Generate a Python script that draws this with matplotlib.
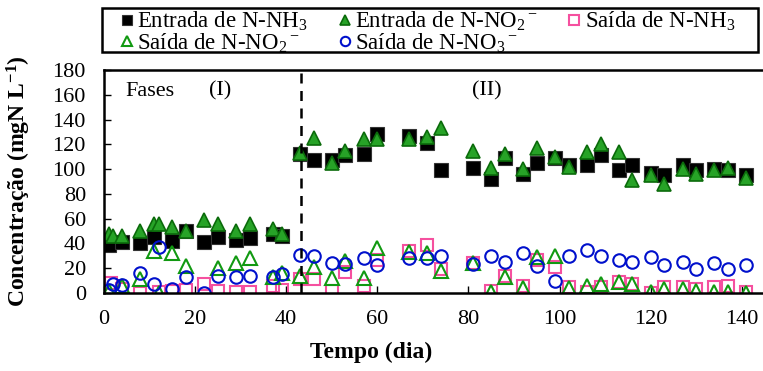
import numpy as np
import matplotlib
matplotlib.use("Agg")
import matplotlib.pyplot as plt
from matplotlib.patches import Rectangle

plt.rcParams["font.family"] = ["Liberation Serif", "DejaVu Serif"]
plt.rcParams["mathtext.fontset"] = "custom"
plt.rcParams["mathtext.rm"] = "Liberation Serif"
plt.rcParams["mathtext.it"] = "Liberation Serif:italic"
plt.rcParams["mathtext.bf"] = "Liberation Serif:bold"

# dados
x_ent_nh3 = [1, 4, 8, 11, 15, 18, 22, 25, 29, 32, 37, 39, 43, 46, 50, 53, 57, 60, 67, 71,
             74, 81, 85, 88, 92, 95, 99, 102, 106, 109, 113, 116, 120, 123, 127, 130, 134, 137, 141]
ent_nh3 = [39, 41, 40, 45, 42, 50, 41, 45, 43, 44, 48, 46, 112, 107, 107, 111, 112, 128, 127, 121,
           99, 101, 92, 109, 96, 105, 109, 103, 103, 111, 99, 103, 97, 95, 103, 99, 100, 99, 95]

x_ent_no2 = [1, 2, 4, 8, 11, 12, 15, 18, 22, 25, 29, 32, 37, 39, 43, 46, 50, 53, 57, 60, 67, 71,
             74, 81, 85, 88, 92, 95, 99, 102, 106, 109, 113, 116, 120, 123, 127, 130, 134, 137, 141]
ent_no2 = [48, 46, 46, 50, 56, 56, 53, 50, 59, 56, 50, 56, 52, 48, 113, 125, 105, 115, 124, 124, 124, 126,
           133, 115, 101, 112, 100, 117, 110, 102, 114, 120, 114, 91, 95, 88, 100, 96, 99, 101, 93]

x_sai_nh3 = [1.5, 4, 8, 12, 15, 18, 22, 25, 29, 32, 37, 39, 43, 46, 50, 53, 57, 60, 67, 71,
             74, 81, 85, 88, 92, 95, 99, 102, 106, 109, 113, 116, 120, 123, 127, 130, 134, 137, 141]
sai_nh3 = [8, 3.5, 0, 1, 1.5, 2.5, 7, 1.5, 1, 1, 6, 2.5, 11, 11, 1.5, 17, 6, 27, 34, 39,
           19, 24, 1.5, 14, 6, 27, 21, 5, 1, 5, 9, 7.5, 0, 4.5, 4.5, 3, 5, 5.5, 1]

x_sai_no2 = [1, 4, 8, 11, 12, 15, 18, 25, 29, 32, 37, 39, 43, 46, 50, 53, 57, 60, 67, 71,
             74, 81, 85, 88, 92, 95, 99, 102, 106, 109, 113, 116, 120, 123, 127, 130, 134, 137, 141]
sai_no2 = [1.5, 6, 11, 34, 0, 32, 22, 20, 24, 28, 13, 16, 14, 21, 12, 26, 12, 36, 33, 32,
           18, 24, 1, 13, 4, 29, 30, 4, 5.5, 7, 9, 7.5, 1, 3.5, 3.5, 1.5, 1, 1, 0]

x_sai_no3 = [1, 2, 4, 8, 11, 12, 15, 18, 22, 25, 29, 32, 37, 39, 43, 46, 50, 53, 57, 60, 67, 71,
             74, 81, 85, 88, 92, 95, 99, 102, 106, 109, 113, 116, 120, 123, 127, 130, 134, 137, 141]
sai_no3 = [2.5, 7.5, 6.5, 16, 7, 37, 3.5, 13, 0, 13.5, 13, 14, 13, 15.5, 31, 29.5, 24.5, 23.5, 28.5, 23, 28, 28.5,
           30, 23.5, 29.5, 25, 32.5, 22, 9.5, 29.5, 35, 29.5, 27, 25, 29, 23, 25, 19.5, 24.5, 19, 23]

dia_fase = 43.3

fig = plt.figure(figsize=(7.63, 3.71), dpi=100)
ax = fig.add_axes([104 / 763, 1 - 293 / 371, 666 / 763, 223 / 371])

ms = 9.5
h1, = ax.plot(x_ent_nh3, ent_nh3, "s", ms=ms, color="black", mec="#333333", mew=0.8,
              label="Entrada de N-NH$_3$")
h2, = ax.plot(x_ent_no2, ent_no2, "^", ms=ms, color="#27a327", mec="#0b6b0b", mew=1.2,
              label="Entrada de N-NO$_2$$^-$")
h3, = ax.plot(x_sai_nh3, sai_nh3, "s", ms=ms - 0.5, mfc="none", mec="#f5509f", mew=1.5,
              label="Saída de N-NH$_3$")
h4, = ax.plot(x_sai_no2, sai_no2, "^", ms=ms, mfc="none", mec="#119911", mew=1.5,
              label="Saída de N-NO$_2$$^-$")
h5, = ax.plot(x_sai_no3, sai_no3, "o", ms=ms - 0.5, mfc="none", mec="#0010cc", mew=1.5,
              label="Saída de N-NO$_3$$^-$")

ax.axvline(dia_fase, color="black", lw=1.8, ls=(0, (4, 3)))

ax.text(10, 163, "Fases", fontsize=16, ha="center", va="center")
ax.text(25.5, 163, "(I)", fontsize=16, ha="center", va="center")
ax.text(84, 163, "(II)", fontsize=16, ha="center", va="center")

ax.set_xlim(0, 146.2)
ax.set_ylim(0, 180)
ax.set_xticks(np.arange(0, 141, 20))
ax.set_yticks(np.arange(0, 181, 20))
ax.tick_params(direction="in", length=5, width=1, labelsize=16)
ax.tick_params(axis="y", pad=13)
ax.tick_params(axis="x", pad=12)
for s in ax.spines.values():
    s.set_linewidth(1.8)

ax.set_ylabel(r"Concentração (mgN L$^{\mathbf{-1}}$)", fontsize=17, fontweight="bold")
ax.yaxis.set_label_coords(-0.106, 0.5)
ax.set_xlabel("Tempo (dia)", fontsize=17, fontweight="bold")
ax.xaxis.set_label_coords((371 - 104) / 666, -0.22)

# legenda fora dos eixos, com moldura desenhada a parte
handles = [h1, h4, h2, h5, h3]
leg = fig.legend(handles=handles, labels=[h.get_label() for h in handles], ncol=3,
                 loc="upper left", bbox_to_anchor=(120 / 763, 1 - 10 / 371),
                 fontsize=16.5, handlelength=0.6, handletextpad=0.15,
                 borderaxespad=0, borderpad=0, labelspacing=-0.08, columnspacing=1.3,
                 frameon=False, markerscale=0.75)
fig.patches.append(Rectangle((102 / 763, 1 - 52 / 371), 656 / 763, 44 / 371,
                             transform=fig.transFigure, fill=False, lw=1.8, ec="black"))

fig.savefig("out.png", dpi=100)
